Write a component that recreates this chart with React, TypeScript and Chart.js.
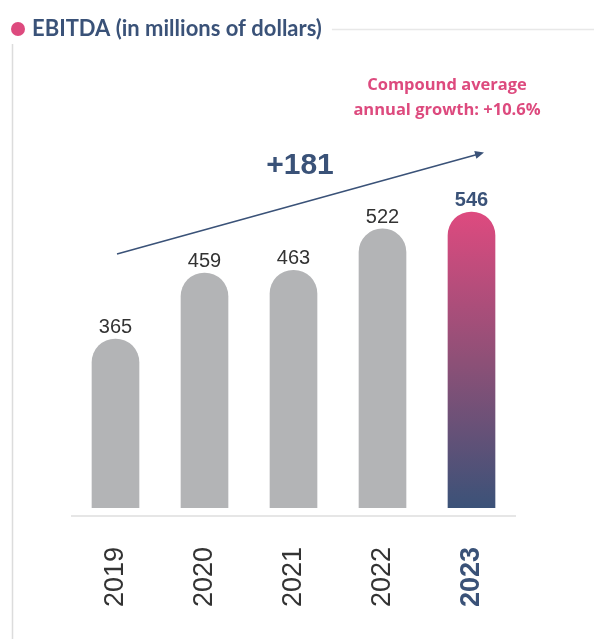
import React, { useEffect, useRef } from "react";
import { Chart, registerables } from "chart.js";

Chart.register(...registerables);

const years = ["2019", "2020", "2021", "2022", "2023"];
const ebitda = [365, 459, 463, 522, 546];
const titleText = "EBITDA (in millions of dollars)";
const growthText = "+181";
const cagrLines = ["Compound average", "annual growth: +10.6%"];

const DARK = "#3a5278";
const PINK = "#dd4a7e";
const GRAY = "#b3b4b6";

const decor = {
  id: "decor",
  beforeDatasetsDraw(chart: any) {
    const ctx = chart.ctx;
    const area = chart.chartArea;
    ctx.save();
    ctx.strokeStyle = "#dcdcdc";
    ctx.lineWidth = 1.5;
    ctx.beginPath();
    ctx.moveTo(12.5, 44);
    ctx.lineTo(12.5, 639);
    ctx.stroke();
    ctx.strokeStyle = "#e6e6e6";
    ctx.lineWidth = 2;
    ctx.beginPath();
    ctx.moveTo(area.left, area.bottom + 8);
    ctx.lineTo(area.right, area.bottom + 8);
    ctx.stroke();
    ctx.restore();
  },
  afterDatasetsDraw(chart: any) {
    const ctx = chart.ctx;
    const meta = chart.getDatasetMeta(0);
    ctx.save();
    ctx.fillStyle = PINK;
    ctx.beginPath();
    ctx.arc(18, 29, 7, 0, Math.PI * 2);
    ctx.fill();
    ctx.fillStyle = DARK;
    ctx.font = "bold 22px 'Lato'";
    ctx.textBaseline = "alphabetic";
    ctx.textAlign = "left";
    ctx.fillText(titleText, 32, 36);
    const tw = ctx.measureText(titleText).width;
    ctx.strokeStyle = "#e8e8e8";
    ctx.lineWidth = 1.5;
    ctx.beginPath();
    ctx.moveTo(32 + tw + 10, 29.5);
    ctx.lineTo(594, 29.5);
    ctx.stroke();

    meta.data.forEach((bar: any, i: number) => {
      const last = i === ebitda.length - 1;
      ctx.fillStyle = last ? DARK : "#333333";
      ctx.font = last ? "bold 20px 'Liberation Sans'" : "20px 'Liberation Sans'";
      ctx.textAlign = "center";
      ctx.textBaseline = "alphabetic";
      ctx.fillText(String(ebitda[i]), bar.x, bar.y - 6);
    });

    const x1 = 117, y1 = 254, x2 = 484, y2 = 152.5;
    ctx.strokeStyle = DARK;
    ctx.fillStyle = DARK;
    ctx.lineWidth = 1.6;
    ctx.beginPath();
    ctx.moveTo(x1, y1);
    ctx.lineTo(x2 - 6, y2 + 1.7);
    ctx.stroke();
    const ang = Math.atan2(y2 - y1, x2 - x1);
    ctx.beginPath();
    ctx.moveTo(x2, y2);
    ctx.lineTo(x2 - 9 * Math.cos(ang) + 4 * Math.sin(ang), y2 - 9 * Math.sin(ang) - 4 * Math.cos(ang));
    ctx.lineTo(x2 - 9 * Math.cos(ang) - 4 * Math.sin(ang), y2 - 9 * Math.sin(ang) + 4 * Math.cos(ang));
    ctx.closePath();
    ctx.fill();

    ctx.font = "bold 30px 'Liberation Sans'";
    ctx.textAlign = "center";
    ctx.fillText(growthText, 300, 174);

    ctx.fillStyle = PINK;
    ctx.font = "bold 16.5px 'Open Sans'";
    ctx.fillText(cagrLines[0], 447, 90);
    ctx.fillText(cagrLines[1], 447, 115);
    ctx.restore();
  },
};

export default function App() {
  const ref = useRef<HTMLCanvasElement | null>(null);
  useEffect(() => {
    if (!ref.current) return;
    const chart = new Chart(ref.current, {
      type: "bar",
      data: {
        labels: years,
        datasets: [
          {
            data: ebitda,
            backgroundColor: (c: any) => {
              const i = c.dataIndex;
              if (i !== ebitda.length - 1) return GRAY;
              const ch = c.chart;
              const area = ch.chartArea;
              if (!area) return PINK;
              const top = ch.scales.y.getPixelForValue(ebitda[i]);
              const g = ch.ctx.createLinearGradient(0, top, 0, area.bottom);
              g.addColorStop(0, "#de4a7f");
              g.addColorStop(0.5, "#8e5077");
              g.addColorStop(1, "#3b5278");
              return g;
            },
            borderRadius: { topLeft: 24, topRight: 24, bottomLeft: 0, bottomRight: 0 },
            borderSkipped: "start",
            barThickness: 47,
          },
        ],
      },
      options: {
        animation: false,
        responsive: true,
        maintainAspectRatio: false,
        layout: { padding: { left: 71, right: 78, top: 104, bottom: 0 } },
        plugins: { legend: { display: false }, tooltip: { enabled: false }, title: { display: false } },
        scales: {
          x: {
            grid: { display: false },
            border: { display: false },
            afterFit: (scale: any) => {
              scale.height = 131;
            },
            ticks: {
              minRotation: 90,
              maxRotation: 90,
              padding: 31,
              color: (c: any) => (c.index === years.length - 1 ? DARK : "#333333"),
              font: (c: any) => ({
                family: "'Liberation Sans'",
                size: 27,
                weight: c.index === years.length - 1 ? "bold" : "normal",
              }),
            },
          },
          y: { display: false, min: 124, max: 700 },
        },
      },
      plugins: [decor],
    });
    return () => chart.destroy();
  }, []);
  return (
    <div style={{ position: "fixed", left: 0, top: 0, width: 594, height: 639, background: "#fff" }}>
      <canvas ref={ref} />
    </div>
  );
}
